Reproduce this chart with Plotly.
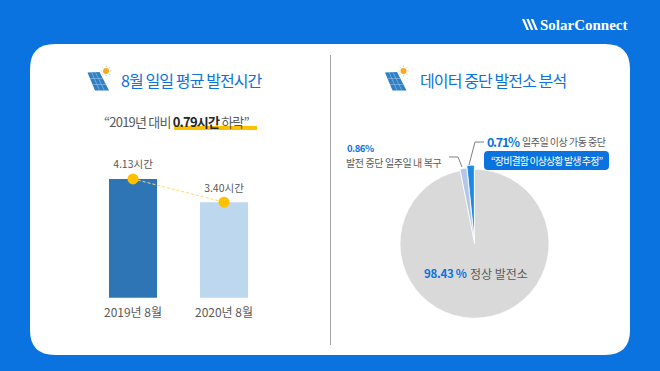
import json
import plotly.graph_objects as go

W, H = 660, 371
KR = "Noto Sans CJK KR"

# Left chart
periods = ["2019년 8월", "2020년 8월"]
hours = [4.13, 3.40]
hour_labels = ["4.13시간", "3.40시간"]
bar_colors = ["#2E75B6", "#BDD7EE"]

# Right chart: the reference labels its slices 98.43 / 0.86 / 0.71 %, but draws the
# two small wedges wider than that; the shares below are the wedges as drawn.
slice_names = ["일주일 이상 가동 중단", "발전 중단 일주일 내 복구", "정상 발전소"]
slice_labels = ["0.71%", "0.86%", "98.43 %"]
slice_drawn_shares = [1.6, 1.5, 96.9]
slice_colors = ["#1E88E5", "#B4C7E7", "#D9D9D9"]

BLUE = "#0A73E0"
GRAY = "#595959"


def fx(x):
    return x / W


def fy(y):
    return 1 - y / H


def poly(points, fill=None, line=None, width=1, layer="above", close=True):
    d = "M" + " L".join(f"{fx(x):.5f} {fy(y):.5f}" for x, y in points)
    if close:
        d += " Z"
    return dict(type="path", xref="paper", yref="paper", path=d, layer=layer,
                fillcolor=fill if fill else "rgba(0,0,0,0)",
                line=dict(color=line if line else "rgba(0,0,0,0)", width=width if line else 0))


def rrect(x0, y0, x1, y1, r, fill, layer="below"):
    def p(x, y):
        return f"{fx(x):.5f} {fy(y):.5f}"
    d = (f"M{p(x0 + r, y0)} L{p(x1 - r, y0)} Q{p(x1, y0)} {p(x1, y0 + r)} "
         f"L{p(x1, y1 - r)} Q{p(x1, y1)} {p(x1 - r, y1)} L{p(x0 + r, y1)} "
         f"Q{p(x0, y1)} {p(x0, y1 - r)} L{p(x0, y0 + r)} Q{p(x0, y0)} {p(x0 + r, y0)} Z")
    return dict(type="path", xref="paper", yref="paper", path=d, fillcolor=fill,
                line=dict(width=0), layer=layer)


spacings = []


def text(x, y, s, size, color=GRAY, anchor="center", family=KR, spacing=0):
    spacings.append(spacing)
    if anchor == "left":
        x -= 1.5
    return dict(x=fx(x), y=fy(y), xref="paper", yref="paper", text=s, showarrow=False,
                xanchor=anchor, yanchor="middle", align="left",
                font=dict(size=size, color=color, family=family))


def icon(dx):
    out = [poly([(87.5 + dx, 72.5), (99.5 + dx, 72), (109 + dx, 90.5), (95 + dx, 90.5)], fill="#2F7FC4")]
    for t in (1 / 3, 2 / 3):
        out.append(poly([(87.5 + dx + 12 * t, 72.3), (95 + dx + 14 * t, 90.5)], line="#9CC6EA", width=0.6, close=False))
        out.append(poly([(87.5 + dx + 7.5 * t, 72.5 + 18 * t), (99.5 + dx + 9.5 * t, 72.5 + 18 * t)], line="#9CC6EA", width=0.6, close=False))
    sx, sy = 106 + dx, 71
    out.append(dict(type="circle", xref="paper", yref="paper", x0=fx(sx - 3), x1=fx(sx + 3),
                    y0=fy(sy + 3), y1=fy(sy - 3), fillcolor="#F9A825", line=dict(width=0)))
    for a, b, c, e in [(0, -5.5, 0, -4), (0, 5.5, 0, 4), (-5.5, 0, -4, 0), (5.5, 0, 4, 0),
                       (-4, -4, -3, -3), (4, -4, 3, -3), (-4, 4, -3, 3), (4, 4, 3, 3)]:
        out.append(poly([(sx + a, sy + b), (sx + c, sy + e)], line="#F9C56B", width=0.8, close=False))
    return out


fig = go.Figure()
fig.add_trace(go.Bar(x=periods, y=hours, marker=dict(color=bar_colors, line=dict(width=0)),
                     hoverinfo="skip", showlegend=False))
fig.add_trace(go.Scatter(x=periods, y=hours, mode="lines+markers+text", text=hour_labels,
                         textposition="top center", textfont=dict(size=10.5, color=GRAY, family=KR),
                         line=dict(color="#FFD966", width=1, dash="3px,2px"),
                         marker=dict(color="#FFC000", size=11), hoverinfo="skip", showlegend=False))

cx, cy, half = 474.5, 243.7, 78.5
fig.add_trace(go.Pie(values=slice_drawn_shares, labels=slice_names, sort=False,
                     direction="counterclockwise", rotation=-slice_drawn_shares[0] * 3.6, textinfo="none",
                     marker=dict(colors=slice_colors, line=dict(color="white", width=0.7)),
                     pull=[0.054, 0.02, 0], hoverinfo="skip", showlegend=False,
                     domain=dict(x=[fx(cx - half), fx(cx + half)], y=[fy(cy + half), fy(cy - half)])))

shapes = [
    rrect(30, 44, 630, 355, 25, "white"),
    poly([(330.5, 55), (330.5, 345)], line="#A6A6A6", width=1, close=False),
    rrect(174, 126, 257, 130, 0.5, "#FFC000"),
    rrect(484, 151, 609, 170, 4, BLUE, layer="above"),
    poly([(484, 142), (475, 142), (469, 165)], line="#7F7F7F", width=1, close=False),
    poly([(449, 157), (458, 157), (462, 167)], line="#7F7F7F", width=1, close=False),
]
shapes += icon(0) + icon(297.5)
for i in range(3):
    ox = 522 + i * 4.4
    shapes.append(poly([(ox, 19), (ox + 2.4, 19), (ox + 7, 30), (ox + 4.6, 30)], fill="white"))

annotations = [
    text(120, 80, "8월 일일 평균 발전시간", 16, BLUE, "left", spacing=-0.9),
    text(420, 80, "데이터 중단 발전소 분석", 16, BLUE, "left", spacing=-0.9),
    text(103, 121, "“2019년 대비 <b style='color:#262626'>0.79시간</b> 하락”", 13, GRAY, "left", spacing=-0.8),
    text(539, 25, "<b>SolarConnect</b>", 15, "white", "left", "Liberation Serif"),
    text(486, 141, f"<b>{slice_labels[0]}</b>", 12.5, BLUE, "left", spacing=-1.3),
    text(521, 141, slice_names[0], 10, GRAY, "left", spacing=-0.5),
    text(490, 160.5, "“장비결함 이상상황 발생 추정”", 10, "white", "left", spacing=-0.9),
    text(346, 148, f"<b>{slice_labels[1]}</b>", 9.5, BLUE, "left", spacing=-0.5),
    text(345, 162, slice_names[1], 10, GRAY, "left", spacing=-0.4),
    text(423, 273, f"<b>{slice_labels[2]}</b>", 11.5, BLUE, "left", spacing=-0.3),
    text(469, 273, slice_names[2], 12, GRAY, "left"),
]

fig.update_layout(
    width=W, height=H, margin=dict(l=0, r=0, t=0, b=0), autosize=False,
    paper_bgcolor=BLUE, plot_bgcolor="rgba(0,0,0,0)", bargap=0.4725,
    shapes=shapes, annotations=annotations, showlegend=False,
    font=dict(family=KR),
    xaxis=dict(domain=[fx(87.5), fx(269.5)], type="category", showgrid=False, zeroline=False,
               showline=False, ticks="outside", ticklen=4, tickcolor="rgba(0,0,0,0)",
               tickfont=dict(size=12, color=GRAY, family=KR)),
    # The reference's bars are not zero-based: their heights imply a baseline near 0.41.
    yaxis=dict(domain=[fy(297.7), fy(154)], range=[0.41, 4.91], visible=False),
)

script = ("document.body.style.margin='0';document.body.style.overflow='hidden';"
          "var sp=" + json.dumps(spacings) + ";"
          "document.querySelectorAll('.annotation-text').forEach(function(e,i){"
          "e.style.letterSpacing=sp[i]+'px';});")
fig.write_html("out.html", config=dict(displayModeBar=False), post_script=script)
